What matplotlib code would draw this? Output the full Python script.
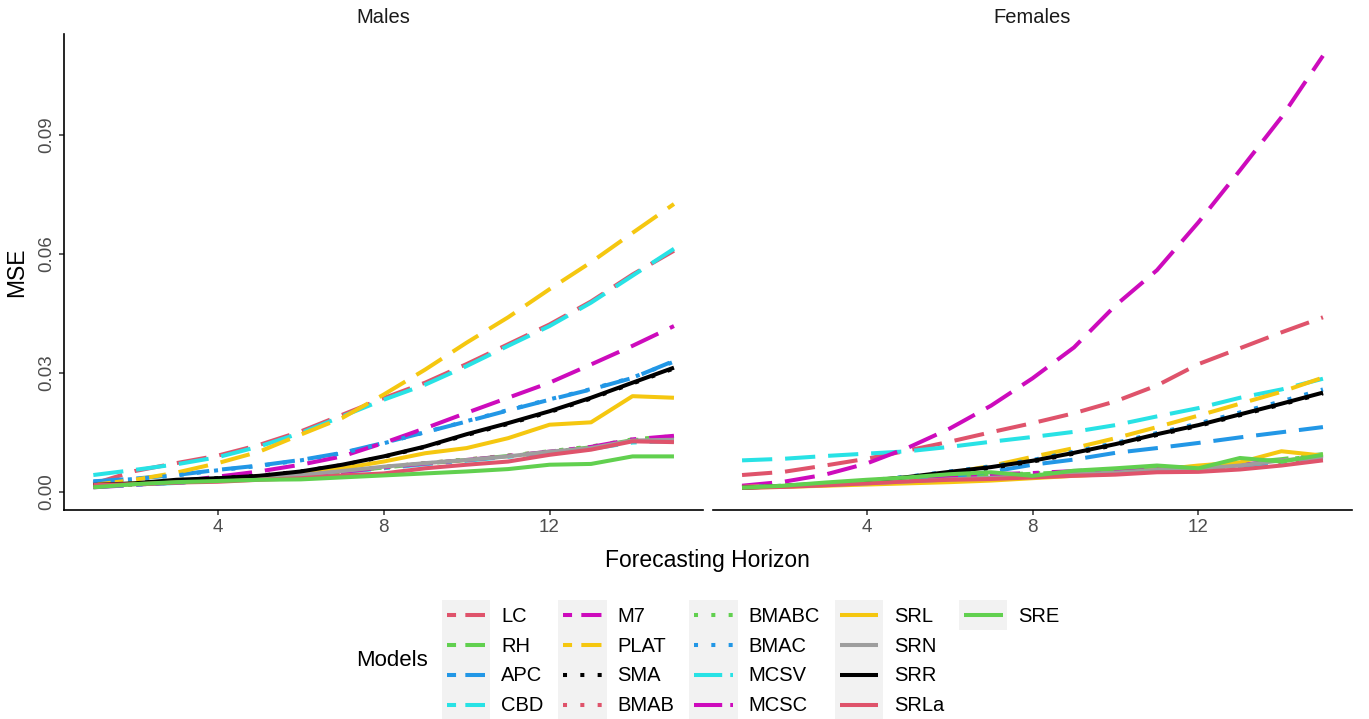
import matplotlib
matplotlib.use("Agg")
import matplotlib.pyplot as plt
from matplotlib.legend_handler import HandlerBase
from matplotlib.lines import Line2D
from matplotlib.patches import Rectangle

plt.rcParams['font.family'] = ['Liberation Sans', 'DejaVu Sans']
plt.rcParams['lines.solid_capstyle'] = 'butt'
plt.rcParams['lines.dash_capstyle'] = 'butt'

horizon = list(range(1, 16))

models = ["LC", "RH", "APC", "CBD", "M7", "PLAT", "SMA", "BMAB", "BMABC",
          "BMAC", "MCSV", "MCSC", "SRL", "SRN", "SRR", "SRLa", "SRE"]

# MSE by forecasting horizon, males
males_LC = [0.0020, 0.0052, 0.0072, 0.0091, 0.0118, 0.0152, 0.0194, 0.0236, 0.0275, 0.0322, 0.0372, 0.0422, 0.0480, 0.0548, 0.0608]
males_RH = [0.0012, 0.0018, 0.0023, 0.0028, 0.0034, 0.0041, 0.0050, 0.0061, 0.0071, 0.0080, 0.0090, 0.0100, 0.0112, 0.0130, 0.0137]
males_APC = [0.0026, 0.0033, 0.0042, 0.0055, 0.0066, 0.0080, 0.0098, 0.0123, 0.0150, 0.0177, 0.0205, 0.0232, 0.0258, 0.0287, 0.0330]
males_CBD = [0.0042, 0.0055, 0.0069, 0.0087, 0.0114, 0.0148, 0.0190, 0.0232, 0.0270, 0.0317, 0.0368, 0.0418, 0.0477, 0.0545, 0.0613]
males_M7 = [0.0011, 0.0017, 0.0025, 0.0038, 0.0051, 0.0068, 0.0089, 0.0123, 0.0160, 0.0199, 0.0237, 0.0275, 0.0321, 0.0368, 0.0418]
males_PLAT = [0.0017, 0.0030, 0.0048, 0.0072, 0.0101, 0.0144, 0.0186, 0.0245, 0.0308, 0.0376, 0.0440, 0.0511, 0.0579, 0.0653, 0.0726]
males_SMA = [0.0016, 0.0021, 0.0029, 0.0034, 0.0040, 0.0051, 0.0067, 0.0088, 0.0113, 0.0143, 0.0171, 0.0201, 0.0235, 0.0273, 0.0311]
males_BMAB = [0.0013, 0.0018, 0.0023, 0.0028, 0.0034, 0.0041, 0.0051, 0.0062, 0.0072, 0.0081, 0.0091, 0.0101, 0.0113, 0.0131, 0.0138]
males_BMABC = [0.0013, 0.0018, 0.0023, 0.0028, 0.0034, 0.0042, 0.0051, 0.0062, 0.0072, 0.0081, 0.0091, 0.0102, 0.0114, 0.0132, 0.0140]
males_BMAC = [0.0025, 0.0032, 0.0041, 0.0054, 0.0065, 0.0079, 0.0097, 0.0122, 0.0150, 0.0178, 0.0206, 0.0233, 0.0259, 0.0288, 0.0328]
males_MCSV = [0.0012, 0.0017, 0.0022, 0.0027, 0.0033, 0.0040, 0.0049, 0.0059, 0.0069, 0.0078, 0.0088, 0.0098, 0.0108, 0.0124, 0.0128]
males_MCSC = [0.0012, 0.0018, 0.0023, 0.0028, 0.0034, 0.0041, 0.0050, 0.0061, 0.0071, 0.0080, 0.0090, 0.0101, 0.0113, 0.0132, 0.0141]
males_SRL = [0.0014, 0.0021, 0.0025, 0.0031, 0.0035, 0.0046, 0.0059, 0.0076, 0.0097, 0.0110, 0.0135, 0.0169, 0.0175, 0.0241, 0.0237]
males_SRN = [0.0015, 0.0019, 0.0024, 0.0028, 0.0035, 0.0042, 0.0052, 0.0063, 0.0072, 0.0080, 0.0089, 0.0101, 0.0110, 0.0129, 0.0131]
males_SRR = [0.0017, 0.0021, 0.0030, 0.0034, 0.0040, 0.0051, 0.0068, 0.0089, 0.0114, 0.0145, 0.0173, 0.0203, 0.0237, 0.0275, 0.0313]
males_SRLa = [0.0017, 0.0019, 0.0023, 0.0025, 0.0030, 0.0034, 0.0041, 0.0046, 0.0059, 0.0068, 0.0076, 0.0093, 0.0106, 0.0127, 0.0125]
males_SRE = [0.0011, 0.0019, 0.0024, 0.0027, 0.0030, 0.0031, 0.0036, 0.0041, 0.0046, 0.0051, 0.0057, 0.0068, 0.0070, 0.0089, 0.0089]

# MSE by forecasting horizon, females
females_LC = [0.0042, 0.0050, 0.0066, 0.0083, 0.0104, 0.0126, 0.0150, 0.0173, 0.0198, 0.0228, 0.0268, 0.0322, 0.0362, 0.0402, 0.0440]
females_RH = [0.0011, 0.0015, 0.0020, 0.0025, 0.0030, 0.0036, 0.0041, 0.0045, 0.0050, 0.0055, 0.0060, 0.0063, 0.0072, 0.0082, 0.0095]
females_APC = [0.0014, 0.0016, 0.0019, 0.0023, 0.0030, 0.0038, 0.0050, 0.0068, 0.0081, 0.0098, 0.0110, 0.0123, 0.0137, 0.0150, 0.0163]
females_CBD = [0.0079, 0.0083, 0.0090, 0.0096, 0.0102, 0.0113, 0.0126, 0.0138, 0.0151, 0.0168, 0.0190, 0.0211, 0.0237, 0.0258, 0.0285]
females_M7 = [0.0015, 0.0025, 0.0043, 0.0071, 0.0111, 0.0159, 0.0217, 0.0286, 0.0364, 0.0470, 0.0559, 0.0680, 0.0811, 0.0945, 0.1100]
females_PLAT = [0.0012, 0.0015, 0.0020, 0.0027, 0.0036, 0.0047, 0.0065, 0.0088, 0.0110, 0.0135, 0.0163, 0.0192, 0.0222, 0.0252, 0.0288]
females_SMA = [0.0011, 0.0014, 0.0020, 0.0026, 0.0036, 0.0048, 0.0060, 0.0076, 0.0096, 0.0118, 0.0143, 0.0166, 0.0193, 0.0220, 0.0248]
females_BMAB = [0.0011, 0.0014, 0.0019, 0.0024, 0.0029, 0.0035, 0.0040, 0.0044, 0.0048, 0.0052, 0.0057, 0.0060, 0.0066, 0.0075, 0.0085]
females_BMABC = [0.0011, 0.0015, 0.0020, 0.0025, 0.0031, 0.0037, 0.0043, 0.0046, 0.0051, 0.0056, 0.0061, 0.0062, 0.0074, 0.0080, 0.0092]
females_BMAC = [0.0011, 0.0015, 0.0021, 0.0028, 0.0038, 0.0051, 0.0064, 0.0080, 0.0101, 0.0123, 0.0148, 0.0172, 0.0200, 0.0228, 0.0258]
females_MCSV = [0.0011, 0.0014, 0.0019, 0.0024, 0.0029, 0.0034, 0.0039, 0.0043, 0.0047, 0.0051, 0.0056, 0.0059, 0.0065, 0.0074, 0.0084]
females_MCSC = [0.0011, 0.0014, 0.0019, 0.0025, 0.0031, 0.0037, 0.0044, 0.0047, 0.0052, 0.0056, 0.0060, 0.0062, 0.0068, 0.0078, 0.0090]
females_SRL = [0.0010, 0.0012, 0.0015, 0.0018, 0.0021, 0.0024, 0.0028, 0.0034, 0.0040, 0.0045, 0.0055, 0.0066, 0.0074, 0.0102, 0.0091]
females_SRN = [0.0010, 0.0013, 0.0017, 0.0021, 0.0026, 0.0031, 0.0035, 0.0039, 0.0044, 0.0048, 0.0055, 0.0058, 0.0066, 0.0079, 0.0087]
females_SRR = [0.0010, 0.0014, 0.0020, 0.0027, 0.0037, 0.0050, 0.0062, 0.0078, 0.0098, 0.0120, 0.0145, 0.0168, 0.0195, 0.0222, 0.0250]
females_SRLa = [0.0010, 0.0012, 0.0016, 0.0021, 0.0026, 0.0030, 0.0032, 0.0036, 0.0040, 0.0043, 0.0049, 0.0050, 0.0056, 0.0066, 0.0079]
females_SRE = [0.0010, 0.0015, 0.0023, 0.0030, 0.0036, 0.0044, 0.0049, 0.0040, 0.0053, 0.0059, 0.0066, 0.0059, 0.0085, 0.0076, 0.0093]

red, green, blue, cyan = "#DF536B", "#61D04F", "#2297E6", "#28E2E5"
magenta, yellow, black, grey = "#CD0BBC", "#F5C710", "#000000", "#9E9E9E"

colours = {"LC": red, "RH": green, "APC": blue, "CBD": cyan, "M7": magenta,
           "PLAT": yellow, "SMA": black, "BMAB": red, "BMABC": green,
           "BMAC": blue, "MCSV": cyan, "MCSC": magenta, "SRL": yellow,
           "SRN": grey, "SRR": black, "SRLa": red, "SRE": green}

kind = {"LC": "dashed", "RH": "dashed", "APC": "dashed", "CBD": "dashed",
        "M7": "dashed", "PLAT": "dashed", "SMA": "dotted", "BMAB": "dotted",
        "BMABC": "dotted", "BMAC": "dotted", "MCSV": "twodash", "MCSC": "twodash",
        "SRL": "solid", "SRN": "solid", "SRR": "solid", "SRLa": "solid", "SRE": "solid"}

# dash patterns for the panels and for the (shorter) legend keys
line_dash = {"dashed": (0, (7.5, 3.2)), "dotted": (0, (1, 3.3)),
             "twodash": (0, (7.5, 3.2, 1.5, 3.2)), "solid": "-"}
key_dash = {"dashed": (2.75, (5, 2.3)), "dotted": (0, (1, 3.3)),
            "twodash": (0, (7, 2, 1.5, 2)), "solid": "-"}

LW = 2.9
males = {m: globals()["males_" + m] for m in models}
females = {m: globals()["females_" + m] for m in models}


class KeyBox(HandlerBase):
    # grey key background with a short line on top
    def create_artists(self, legend, orig_handle, xdescent, ydescent,
                       width, height, fontsize, trans):
        box = Rectangle((-xdescent, -ydescent), width, height,
                        facecolor="#F2F2F2", edgecolor="none", transform=trans)
        if orig_handle.get_label().startswith("_"):
            box.set_visible(False)
            return [box]
        inset = 0.1 * width
        y = -ydescent + height / 2
        line = Line2D([-xdescent + inset, -xdescent + width - inset], [y, y])
        line.update_from(orig_handle)
        line.set_transform(trans)
        return [box, line]


fig = plt.figure(figsize=(13.69, 7.19), dpi=100)
ax_m = fig.add_axes([64.3 / 1369, 1 - 509.5 / 719, (703 - 64.3) / 1369, (509.5 - 34) / 719])
ax_f = fig.add_axes([713 / 1369, 1 - 509.5 / 719, (1352 - 713) / 1369, (509.5 - 34) / 719])

for ax, data, title in [(ax_m, males, "Males"), (ax_f, females, "Females")]:
    for m in models:
        ax.plot(horizon, data[m], color=colours[m], linestyle=line_dash[kind[m]], lw=LW)
    ax.set_xlim(0.3, 15.7)
    ax.set_ylim(-0.0045, 0.1155)
    ax.set_xticks([4, 8, 12])
    ax.set_yticks([0, 0.03, 0.06, 0.09])
    ax.set_yticklabels(["0.00", "0.03", "0.06", "0.09"], rotation=90, va="center")
    ax.tick_params(length=3.5, width=1.1, color="#333333", labelcolor="#4D4D4D",
                   labelsize=13.5, pad=3)
    for s in ["top", "right"]:
        ax.spines[s].set_visible(False)
    ax.spines["bottom"].set_linewidth(1.2)
    ax.spines["left"].set_linewidth(1.2)
    ax.set_title(title, fontsize=14.5, color="#1A1A1A", pad=8)

ax_f.spines["left"].set_visible(False)
ax_f.tick_params(axis="y", left=False, labelleft=False)

fig.text(707 / 1369, 1 - 561 / 719, "Forecasting Horizon", ha="center", va="center", fontsize=16.5)
fig.text(17 / 1369, 1 - 272 / 719, "MSE", ha="center", va="center", rotation=90, fontsize=16.5)
fig.text(356 / 1369, 1 - 660 / 719, "Models", ha="left", va="center", fontsize=16)

handles = [Line2D([], [], color=colours[m], linestyle=key_dash[kind[m]], lw=LW, label=m)
           for m in models]
# pad the last column so the legend fills column by column like 4,4,4,4,1
blanks = [Line2D([], [], label="_blank%d" % i) for i in range(3)]
handles = handles + blanks
labels = list(models) + [""] * len(blanks)

fs = 14.5
fig.legend(handles, labels, ncol=5, loc="center left",
           bbox_to_anchor=(442 / 1369, 1 - 660 / 719), frameon=False,
           fontsize=fs, borderpad=0, borderaxespad=0, labelspacing=0,
           handlelength=2.39, handleheight=1.9, handletextpad=0.545,
           columnspacing=0.745, handler_map={Line2D: KeyBox()})

fig.savefig("out.png", dpi=100)
